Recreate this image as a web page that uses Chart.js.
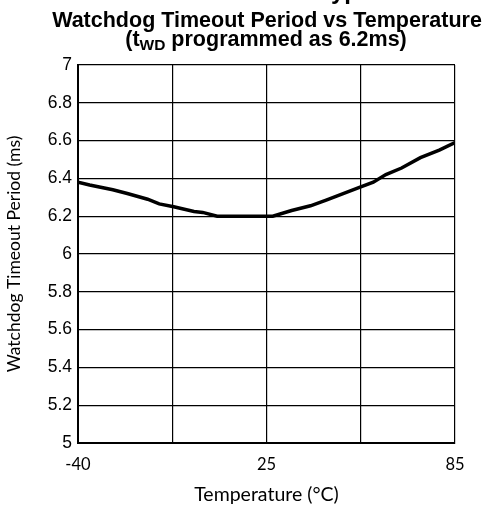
<!DOCTYPE html>
<html>
<head>
<meta charset="utf-8">
<script src="https://cdn.jsdelivr.net/npm/chart.js@4"></script>
<style>
  html, body { margin: 0; padding: 0; background: #fff; }
  #wrap { width: 487px; height: 510px; }
</style>
</head>
<body>
<div id="wrap"><canvas id="c" width="487" height="510"></canvas></div>
<script>
// temperature (°C) and watchdog timeout (ms)
const temps  = [-40, -36, -28, -23, -16, -12, -7, 0, 3, 8, 15, 25, 27, 33, 39, 44, 55, 59, 63, 68, 74, 80, 85];
const period = [6.38, 6.365, 6.34, 6.32, 6.29, 6.265, 6.25, 6.225, 6.22, 6.20, 6.20, 6.20, 6.20, 6.23, 6.255, 6.285, 6.355, 6.38, 6.42, 6.455, 6.51, 6.55, 6.59];
// x axis is 4 equal divisions, labelled -40 / 25 / 85
const xTickLabels = ['-40', '', '25', '', '85'];

// the axis is piecewise: -40..25 over 2 divisions, 25..85 over 2 divisions
function tempToPos(t) {
  return t <= 25 ? (t + 40) / 65 * 2 : 2 + (t - 25) / 60 * 2;
}

const points = temps.map((t, i) => ({ x: tempToPos(t), y: period[i] }));

const titlePlugin = {
  id: 'titles',
  afterDraw(chart) {
    const ctx = chart.ctx;
    ctx.save();
    ctx.fillStyle = '#000';
    ctx.textBaseline = 'alphabetic';

    // header line, mostly cut off at the top
    ctx.font = 'bold 24px "Liberation Sans", Arial, sans-serif';
    ctx.textAlign = 'left';
    ctx.fillText('Typical Characteristics', 318, -1);

    ctx.textAlign = 'center';
    ctx.font = 'bold 21.5px "Liberation Sans", Arial, sans-serif';
    ctx.fillText('Watchdog Timeout Period vs Temperature', 267, 27);

    // second line with subscript
    const big = 'bold 21.5px "Liberation Sans", Arial, sans-serif';
    const small = 'bold 15.5px "Liberation Sans", Arial, sans-serif';
    const parts = [['(t', big, 0], ['WD', small, 4], [' programmed as 6.2ms)', big, 0]];
    let total = 0;
    parts.forEach(p => { ctx.font = p[1]; total += ctx.measureText(p[0]).width; });
    let x = 266 - total / 2;
    ctx.textAlign = 'left';
    parts.forEach(p => {
      ctx.font = p[1];
      ctx.fillText(p[0], x, 46 + p[2]);
      x += ctx.measureText(p[0]).width;
    });
    ctx.restore();
  }
};

new Chart(document.getElementById('c'), {
  type: 'line',
  data: {
    datasets: [{
      data: points,
      borderColor: '#000',
      borderWidth: 3.5,
      pointRadius: 0,
      tension: 0,
      fill: false
    }]
  },
  options: {
    responsive: false,
    animation: false,
    layout: { padding: { top: 65, right: 32, left: 0, bottom: 0 } },
    plugins: { legend: { display: false }, tooltip: { enabled: false }, title: { display: false } },
    scales: {
      x: {
        type: 'linear',
        min: 0,
        max: 4,
        afterFit: (s) => { s.height = 67; },
        ticks: {
          stepSize: 1,
          color: '#000',
          padding: 12,
          maxRotation: 0,
          font: { family: 'Lato, "Open Sans", sans-serif', size: 16.5 },
          callback: (v) => xTickLabels[v]
        },
        grid: { color: '#000', lineWidth: 1.2, drawTicks: false },
        border: { color: '#000', width: 2 },
        title: {
          display: true,
          text: 'Temperature (°C)',
          color: '#000',
          padding: { top: 5 },
          font: { family: 'Lato, "Open Sans", sans-serif', size: 19.5 }
        }
      },
      y: {
        min: 5,
        max: 7,
        afterFit: (s) => { s.width = 78; },
        ticks: {
          stepSize: 0.2,
          color: '#000',
          padding: 6,
          font: { family: '"Liberation Sans", Arial, sans-serif', size: 17.5 },
          callback: (v) => String(Math.round(v * 10) / 10)
        },
        grid: { color: '#000', lineWidth: 1.2, drawTicks: false },
        border: { color: '#000', width: 2 },
        title: {
          display: true,
          text: 'Watchdog Timeout Period (ms)',
          color: '#000',
          padding: { top: 4, bottom: 0 },
          font: { family: 'Lato, "Open Sans", sans-serif', size: 17.5 }
        }
      }
    }
  },
  plugins: [titlePlugin]
});
</script>
</body>
</html>
